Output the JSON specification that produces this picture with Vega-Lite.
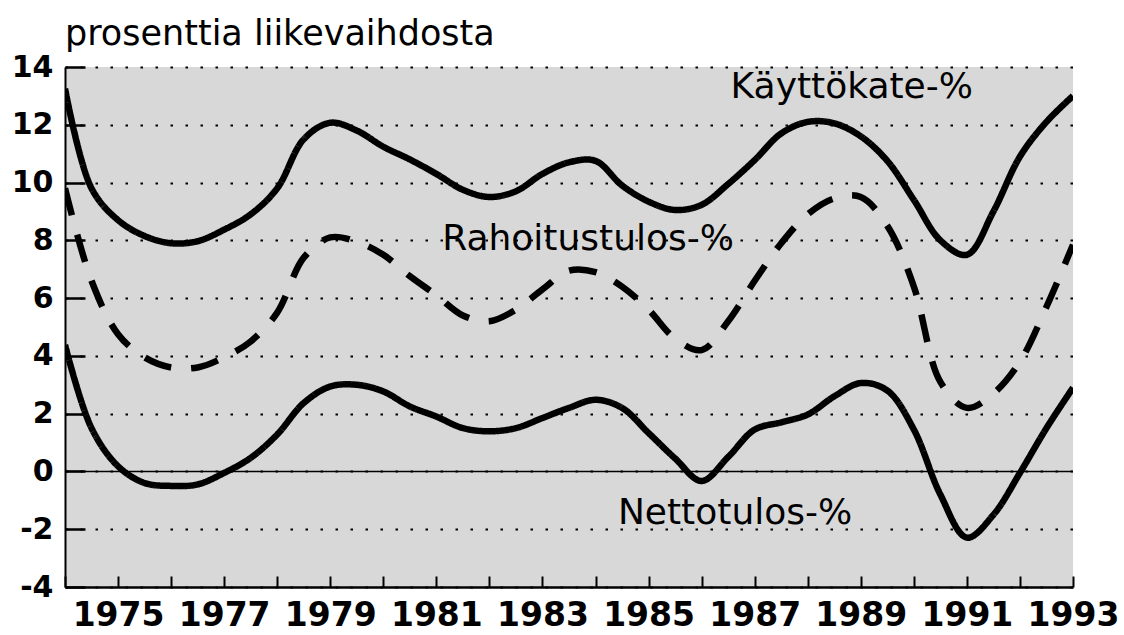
{
  "$schema": "https://vega.github.io/schema/vega-lite/v6.json",
  "width": 1008,
  "height": 520,
  "autosize": "none",
  "padding": {"left": 65, "top": 67, "right": 51, "bottom": 48},
  "background": "white",
  "title": {
    "text": "prosenttia liikevaihdosta",
    "anchor": "start",
    "frame": "group",
    "font": "DejaVu Sans",
    "fontSize": 35,
    "fontWeight": "normal",
    "color": "black",
    "offset": 0
  },
  "config": {
    "view": {"fill": "#d8d8d8", "stroke": null},
    "axis": {
      "labelFont": "DejaVu Sans",
      "labelColor": "black",
      "labelFontWeight": "bold",
      "labelOverlap": false,
      "labelFlush": false,
      "domainColor": "black",
      "tickColor": "black"
    }
  },
  "datasets": {
    "series": [
      {"year": 1974, "series": "Käyttökate-%", "value": 13.25},
      {"year": 1974.5, "series": "Käyttökate-%", "value": 9.8},
      {"year": 1975, "series": "Käyttökate-%", "value": 8.7},
      {"year": 1975.5, "series": "Käyttökate-%", "value": 8.15},
      {"year": 1976, "series": "Käyttökate-%", "value": 7.9},
      {"year": 1976.5, "series": "Käyttökate-%", "value": 7.97},
      {"year": 1977, "series": "Käyttökate-%", "value": 8.37},
      {"year": 1977.5, "series": "Käyttökate-%", "value": 8.9},
      {"year": 1978, "series": "Käyttökate-%", "value": 9.8},
      {"year": 1978.5, "series": "Käyttökate-%", "value": 11.5},
      {"year": 1979, "series": "Käyttökate-%", "value": 12.07},
      {"year": 1979.5, "series": "Käyttökate-%", "value": 11.8},
      {"year": 1980, "series": "Käyttökate-%", "value": 11.24},
      {"year": 1980.5, "series": "Käyttökate-%", "value": 10.8},
      {"year": 1981, "series": "Käyttökate-%", "value": 10.3},
      {"year": 1981.5, "series": "Käyttökate-%", "value": 9.75},
      {"year": 1982, "series": "Käyttökate-%", "value": 9.5},
      {"year": 1982.5, "series": "Käyttökate-%", "value": 9.7},
      {"year": 1983, "series": "Käyttökate-%", "value": 10.3},
      {"year": 1983.5, "series": "Käyttökate-%", "value": 10.7},
      {"year": 1984, "series": "Käyttökate-%", "value": 10.75},
      {"year": 1984.5, "series": "Käyttökate-%", "value": 9.9},
      {"year": 1985, "series": "Käyttökate-%", "value": 9.34},
      {"year": 1985.5, "series": "Käyttökate-%", "value": 9.05},
      {"year": 1986, "series": "Käyttökate-%", "value": 9.23},
      {"year": 1986.5, "series": "Käyttökate-%", "value": 9.95},
      {"year": 1987, "series": "Käyttökate-%", "value": 10.78},
      {"year": 1987.5, "series": "Käyttökate-%", "value": 11.7},
      {"year": 1988, "series": "Käyttökate-%", "value": 12.1},
      {"year": 1988.5, "series": "Käyttökate-%", "value": 12.05},
      {"year": 1989, "series": "Käyttökate-%", "value": 11.6},
      {"year": 1989.5, "series": "Käyttökate-%", "value": 10.75},
      {"year": 1990, "series": "Käyttökate-%", "value": 9.4},
      {"year": 1990.5, "series": "Käyttökate-%", "value": 8.0},
      {"year": 1991, "series": "Käyttökate-%", "value": 7.5},
      {"year": 1991.5, "series": "Käyttökate-%", "value": 9.0},
      {"year": 1992, "series": "Käyttökate-%", "value": 10.9},
      {"year": 1992.5, "series": "Käyttökate-%", "value": 12.1},
      {"year": 1993, "series": "Käyttökate-%", "value": 13.0},

      {"year": 1974, "series": "Rahoitustulos-%", "value": 9.8},
      {"year": 1974.5, "series": "Rahoitustulos-%", "value": 6.6},
      {"year": 1975, "series": "Rahoitustulos-%", "value": 4.75},
      {"year": 1975.5, "series": "Rahoitustulos-%", "value": 3.95},
      {"year": 1976, "series": "Rahoitustulos-%", "value": 3.6},
      {"year": 1976.5, "series": "Rahoitustulos-%", "value": 3.6},
      {"year": 1977, "series": "Rahoitustulos-%", "value": 3.95},
      {"year": 1977.5, "series": "Rahoitustulos-%", "value": 4.5},
      {"year": 1978, "series": "Rahoitustulos-%", "value": 5.5},
      {"year": 1978.5, "series": "Rahoitustulos-%", "value": 7.4},
      {"year": 1979, "series": "Rahoitustulos-%", "value": 8.1},
      {"year": 1979.5, "series": "Rahoitustulos-%", "value": 7.95},
      {"year": 1980, "series": "Rahoitustulos-%", "value": 7.5},
      {"year": 1980.5, "series": "Rahoitustulos-%", "value": 6.76},
      {"year": 1981, "series": "Rahoitustulos-%", "value": 6.1},
      {"year": 1981.5, "series": "Rahoitustulos-%", "value": 5.4},
      {"year": 1982, "series": "Rahoitustulos-%", "value": 5.2},
      {"year": 1982.5, "series": "Rahoitustulos-%", "value": 5.6},
      {"year": 1983, "series": "Rahoitustulos-%", "value": 6.3},
      {"year": 1983.5, "series": "Rahoitustulos-%", "value": 6.95},
      {"year": 1984, "series": "Rahoitustulos-%", "value": 6.9},
      {"year": 1984.5, "series": "Rahoitustulos-%", "value": 6.4},
      {"year": 1985, "series": "Rahoitustulos-%", "value": 5.6},
      {"year": 1985.5, "series": "Rahoitustulos-%", "value": 4.6},
      {"year": 1986, "series": "Rahoitustulos-%", "value": 4.2},
      {"year": 1986.5, "series": "Rahoitustulos-%", "value": 5.2},
      {"year": 1987, "series": "Rahoitustulos-%", "value": 6.6},
      {"year": 1987.5, "series": "Rahoitustulos-%", "value": 7.9},
      {"year": 1988, "series": "Rahoitustulos-%", "value": 8.9},
      {"year": 1988.5, "series": "Rahoitustulos-%", "value": 9.45},
      {"year": 1989, "series": "Rahoitustulos-%", "value": 9.5},
      {"year": 1989.5, "series": "Rahoitustulos-%", "value": 8.5},
      {"year": 1990, "series": "Rahoitustulos-%", "value": 6.4},
      {"year": 1990.5, "series": "Rahoitustulos-%", "value": 3.1},
      {"year": 1991, "series": "Rahoitustulos-%", "value": 2.2},
      {"year": 1991.5, "series": "Rahoitustulos-%", "value": 2.7},
      {"year": 1992, "series": "Rahoitustulos-%", "value": 3.8},
      {"year": 1992.5, "series": "Rahoitustulos-%", "value": 5.7},
      {"year": 1993, "series": "Rahoitustulos-%", "value": 7.85},

      {"year": 1974, "series": "Nettotulos-%", "value": 4.38},
      {"year": 1974.5, "series": "Nettotulos-%", "value": 1.5},
      {"year": 1975, "series": "Nettotulos-%", "value": 0.18},
      {"year": 1975.5, "series": "Nettotulos-%", "value": -0.4},
      {"year": 1976, "series": "Nettotulos-%", "value": -0.5},
      {"year": 1976.5, "series": "Nettotulos-%", "value": -0.45},
      {"year": 1977, "series": "Nettotulos-%", "value": -0.05},
      {"year": 1977.5, "series": "Nettotulos-%", "value": 0.47},
      {"year": 1978, "series": "Nettotulos-%", "value": 1.28},
      {"year": 1978.5, "series": "Nettotulos-%", "value": 2.37},
      {"year": 1979, "series": "Nettotulos-%", "value": 2.94},
      {"year": 1979.5, "series": "Nettotulos-%", "value": 3.0},
      {"year": 1980, "series": "Nettotulos-%", "value": 2.77},
      {"year": 1980.5, "series": "Nettotulos-%", "value": 2.25},
      {"year": 1981, "series": "Nettotulos-%", "value": 1.9},
      {"year": 1981.5, "series": "Nettotulos-%", "value": 1.5},
      {"year": 1982, "series": "Nettotulos-%", "value": 1.39},
      {"year": 1982.5, "series": "Nettotulos-%", "value": 1.5},
      {"year": 1983, "series": "Nettotulos-%", "value": 1.85},
      {"year": 1983.5, "series": "Nettotulos-%", "value": 2.2},
      {"year": 1984, "series": "Nettotulos-%", "value": 2.48},
      {"year": 1984.5, "series": "Nettotulos-%", "value": 2.2},
      {"year": 1985, "series": "Nettotulos-%", "value": 1.33},
      {"year": 1985.5, "series": "Nettotulos-%", "value": 0.45},
      {"year": 1986, "series": "Nettotulos-%", "value": -0.33},
      {"year": 1986.5, "series": "Nettotulos-%", "value": 0.5},
      {"year": 1987, "series": "Nettotulos-%", "value": 1.45},
      {"year": 1987.5, "series": "Nettotulos-%", "value": 1.7},
      {"year": 1988, "series": "Nettotulos-%", "value": 1.97},
      {"year": 1988.5, "series": "Nettotulos-%", "value": 2.6},
      {"year": 1989, "series": "Nettotulos-%", "value": 3.06},
      {"year": 1989.5, "series": "Nettotulos-%", "value": 2.8},
      {"year": 1990, "series": "Nettotulos-%", "value": 1.45},
      {"year": 1990.5, "series": "Nettotulos-%", "value": -0.8},
      {"year": 1991, "series": "Nettotulos-%", "value": -2.29},
      {"year": 1991.5, "series": "Nettotulos-%", "value": -1.5},
      {"year": 1992, "series": "Nettotulos-%", "value": -0.05},
      {"year": 1992.5, "series": "Nettotulos-%", "value": 1.5},
      {"year": 1993, "series": "Nettotulos-%", "value": 2.9}
    ],
    "labels": [
      {"year": 1988.83, "value": 12.93, "text": "Käyttökate-%"},
      {"year": 1983.86, "value": 7.67, "text": "Rahoitustulos-%"},
      {"year": 1986.63, "value": -1.83, "text": "Nettotulos-%"}
    ],
    "zero": [{"value": 0}]
  },
  "layer": [
    {
      "data": {"name": "zero"},
      "mark": {"type": "rule", "color": "black", "strokeWidth": 1.5},
      "encoding": {
        "y": {
          "field": "value",
          "type": "quantitative",
          "scale": {"domain": [-4, 14], "nice": false, "zero": false},
          "axis": {
            "values": [-4, -2, 0, 2, 4, 6, 8, 10, 12, 14],
            "labelExpr": "datum.value + ''",
            "title": null,
            "labelFontSize": 30,
            "labelPadding": 32,
            "tickSize": -20,
            "tickWidth": 2.5,
            "domainWidth": 2,
            "grid": true,
            "gridColor": "black",
            "gridDash": [2.5, 12.5],
            "gridWidth": 2
          }
        }
      }
    },
    {
      "data": {"name": "series"},
      "mark": {"type": "line", "interpolate": "catmull-rom", "color": "black", "strokeWidth": 6.5, "strokeCap": "butt", "clip": true},
      "encoding": {
        "x": {
          "field": "year",
          "type": "quantitative",
          "scale": {"domain": [1974, 1993], "nice": false, "zero": false},
          "axis": {
            "values": [1974, 1975, 1976, 1977, 1978, 1979, 1980, 1981, 1982, 1983, 1984, 1985, 1986, 1987, 1988, 1989, 1990, 1991, 1992, 1993],
            "labelExpr": "datum.value % 2 == 1 ? datum.value + '' : ''",
            "title": null,
            "labelFontSize": 33,
            "labelPadding": 23,
            "tickSize": -11,
            "tickWidth": 2,
            "domainWidth": 2.5,
            "grid": false
          }
        },
        "y": {"field": "value", "type": "quantitative"},
        "detail": {"field": "series"},
        "strokeDash": {
          "field": "series",
          "type": "nominal",
          "scale": {"domain": ["Käyttökate-%", "Rahoitustulos-%", "Nettotulos-%"], "range": [[1, 0], [28, 20], [1, 0]]},
          "legend": null
        }
      }
    },
    {
      "data": {"name": "labels"},
      "mark": {"type": "text", "font": "DejaVu Sans", "fontSize": 36, "color": "black", "align": "center", "baseline": "alphabetic"},
      "encoding": {
        "x": {"field": "year", "type": "quantitative"},
        "y": {"field": "value", "type": "quantitative"},
        "text": {"field": "text"}
      }
    }
  ]
}
